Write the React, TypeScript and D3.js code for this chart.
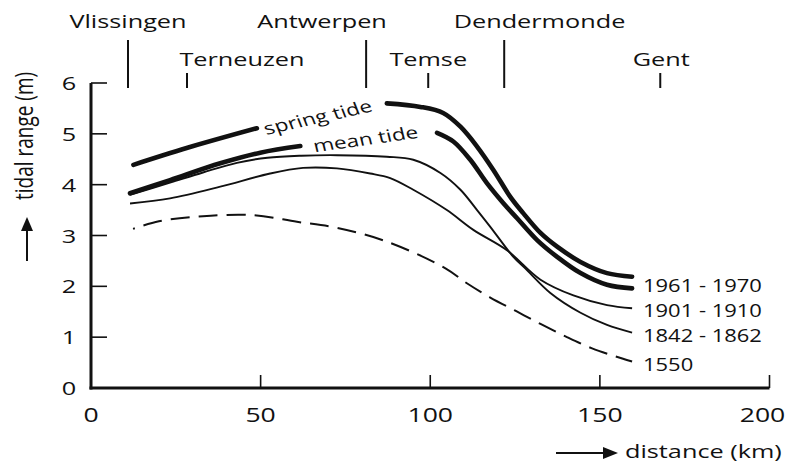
import React from "react";
import * as d3 from "d3";

// distance along the estuary (km) of each place, label row, and label centre (km)
const places = [
  { name: "Vlissingen", km: 10.9, row: 0, labelKm: 10.9 },
  { name: "Terneuzen", km: 28.3, row: 1, labelKm: 44.5 },
  { name: "Antwerpen", km: 81.1, row: 0, labelKm: 68.1 },
  { name: "Temse", km: 99.4, row: 1, labelKm: 99.4 },
  { name: "Dendermonde", km: 121.8, row: 0, labelKm: 132.2 },
  { name: "Gent", km: 167.8, row: 1, labelKm: 168.1 },
];

// [km, tidal range m]; null = break in the line where the curve label sits
const springTide: [number, number | null][] = [
  [12.5, 4.39], [28.2, 4.72], [48.9, 5.11], [68, null], [87.2, 5.6], [97.1, 5.53],
  [103.8, 5.41], [108.9, 5.14], [113.8, 4.75], [118.6, 4.29], [123.6, 3.76], [127.4, 3.44],
  [132.5, 3.05], [137.4, 2.78], [144.3, 2.48], [152.1, 2.26], [159.5, 2.19],
];
const meanTide: [number, number | null][] = [
  [11.5, 3.83], [23.3, 4.09], [38.1, 4.42], [49.9, 4.63], [61.7, 4.76], [80, null],
  [102, 5.02], [106.8, 4.85], [111.8, 4.49], [116.7, 4.03], [121.5, 3.64], [125.6, 3.34],
  [131.5, 2.91], [137.4, 2.58], [144.3, 2.26], [152.1, 2.03], [159.5, 1.96],
];
const range1842: [number, number | null][] = [
  [11.5, 3.8], [23.3, 4.04], [33, 4.24], [43, 4.43], [52, 4.53], [62, 4.57], [72.5, 4.58],
  [87.2, 4.55], [95, 4.49], [103, 4.23], [108.9, 3.9], [113.8, 3.5], [117.7, 3.17],
  [124.5, 2.58], [128.5, 2.32], [135.4, 1.87], [144.3, 1.48], [152.1, 1.24], [159.5, 1.09],
];
const range1901: [number, number | null][] = [
  [11.5, 3.63], [23.3, 3.73], [38.1, 3.96], [52.8, 4.22], [62.5, 4.33], [72.5, 4.32],
  [82.3, 4.22], [88.2, 4.13], [95, 3.9], [104.9, 3.5], [112.7, 3.11], [122.6, 2.71],
  [132.5, 2.13], [142.2, 1.82], [152.1, 1.63], [159.5, 1.57],
];
const range1550: [number, number | null][] = [
  [12.4, 3.13], [20, 3.28], [33, 3.38], [47.8, 3.4], [60.7, 3.27], [72.5, 3.15],
  [87.2, 2.88], [104.6, 2.35], [110.8, 2.06], [117.7, 1.78], [125.1, 1.52], [132.5, 1.26],
  [140, 1.01], [147.7, 0.78], [156.6, 0.58], [159.5, 0.52],
];

const yTicks = [0, 1, 2, 3, 4, 5, 6];
const xTicks = [0, 50, 100, 150, 200];

const W = 788;
const H = 465;
const FONT = "'Open Sans', sans-serif";
const SX = 1.33; // glyphs in the source are stretched horizontally

const x = d3.scaleLinear().domain([0, 200]).range([91, 769.5]);
const y = d3.scaleLinear().domain([0, 6]).range([388, 83]);

const line = d3
  .line<[number, number | null]>()
  .defined((d) => d[1] != null)
  .x((d) => x(d[0]))
  .y((d) => y(d[1] as number))
  .curve(d3.curveCatmullRom.alpha(0.5));

const last = (s: [number, number | null][]) => s[s.length - 1][1] as number;

const endLabels = [
  { text: "1961 - 1970", m: (last(springTide) + last(meanTide)) / 2 },
  { text: "1901 - 1910", m: last(range1901) },
  { text: "1842 - 1862", m: last(range1842) },
  { text: "1550", m: last(range1550) },
];

// screen angle -> angle to use before the horizontal stretch
const preRot = (deg: number, sx = SX) =>
  (Math.atan(Math.tan((deg * Math.PI) / 180) * sx) * 180) / Math.PI;

function SText({ tx, ty, size, children, anchor = "middle", sx = SX, rot = 0 }: any) {
  return (
    <text
      transform={`translate(${tx},${ty}) scale(${sx},1) rotate(${rot})`}
      textAnchor={anchor}
      fontFamily={FONT}
      fontSize={size}
      fill="#111"
    >
      {children}
    </text>
  );
}

export default function App() {
  const x0 = x(0);
  const y0 = y(0);
  return (
    <svg
      width={W}
      height={H}
      viewBox={`0 0 ${W} ${H}`}
      style={{ position: "absolute", left: 0, top: 0, background: "#fff" }}
    >
      <rect width={W} height={H} fill="#fff" />

      {/* place names along the top */}
      {places.map((p) => (
        <g key={p.name}>
          <line
            x1={x(p.km)}
            x2={x(p.km)}
            y1={p.row === 0 ? 40 : 73}
            y2={88}
            stroke="#111"
            strokeWidth={2}
          />
          <SText tx={x(p.labelKm)} ty={p.row === 0 ? 28 : 66} size={19}>
            {p.name}
          </SText>
        </g>
      ))}

      {/* axes */}
      <line x1={x0} x2={x0} y1={y(6)} y2={y0 + 1.5} stroke="#111" strokeWidth={3} />
      <line x1={x0 - 1.5} x2={x(200)} y1={y0} y2={y0} stroke="#111" strokeWidth={3} />
      {yTicks.filter((t) => t > 0).map((t) => (
        <line key={t} x1={x0} x2={x0 + 16} y1={y(t)} y2={y(t)} stroke="#111" strokeWidth={1.6} />
      ))}
      {yTicks.map((t) => (
        <SText key={t} tx={69} ty={y(t) + 7} size={19}>
          {t}
        </SText>
      ))}
      {xTicks.filter((t) => t > 0).map((t) => (
        <line key={t} x1={x(t)} x2={x(t)} y1={y0} y2={y0 - 13} stroke="#111" strokeWidth={1.6} />
      ))}
      {xTicks.map((t) => (
        <SText key={t} tx={x(t) - (t === 200 ? 7 : 0)} ty={422} size={20}>
          {t}
        </SText>
      ))}

      {/* axis titles */}
      <g transform="translate(27,0)">
        <line x1={0} x2={0} y1={261} y2={228} stroke="#111" strokeWidth={2} />
        <path d="M0,217 L-6,231 L6,231 Z" fill="#111" />
      </g>
      <text
        transform="translate(33,200) rotate(-90) scale(1,1.33)"
        textAnchor="start"
        fontFamily={FONT}
        fontSize={19}
        fill="#111"
      >
        tidal range (m)
      </text>
      <line x1={556} x2={606} y1={453} y2={453} stroke="#111" strokeWidth={2} />
      <path d="M618,453 L603,447 L603,459 Z" fill="#111" />
      <SText tx={625} ty={458} size={19} anchor="start">
        distance (km)
      </SText>

      {/* curves */}
      <path d={line(range1550) || ""} fill="none" stroke="#111" strokeWidth={2}
        strokeDasharray="19 9" strokeDashoffset={17} />
      <path d={line(range1901) || ""} fill="none" stroke="#111" strokeWidth={1.9} />
      <path d={line(range1842) || ""} fill="none" stroke="#111" strokeWidth={1.9} />
      <path d={line(meanTide) || ""} fill="none" stroke="#111" strokeWidth={4.6} strokeLinecap="round" />
      <path d={line(springTide) || ""} fill="none" stroke="#111" strokeWidth={4.6} strokeLinecap="round" />

      {/* curve labels */}
      <SText tx={320} ty={123} size={17} rot={preRot(-12.5)}>
        spring tide
      </SText>
      <SText tx={367} ty={145} size={17} rot={preRot(-8)}>
        mean tide
      </SText>

      {endLabels.map((l) => (
        <SText key={l.text} tx={643} ty={y(l.m) + 9} size={18} anchor="start" sx={1.22}>
          {l.text}
        </SText>
      ))}
    </svg>
  );
}
